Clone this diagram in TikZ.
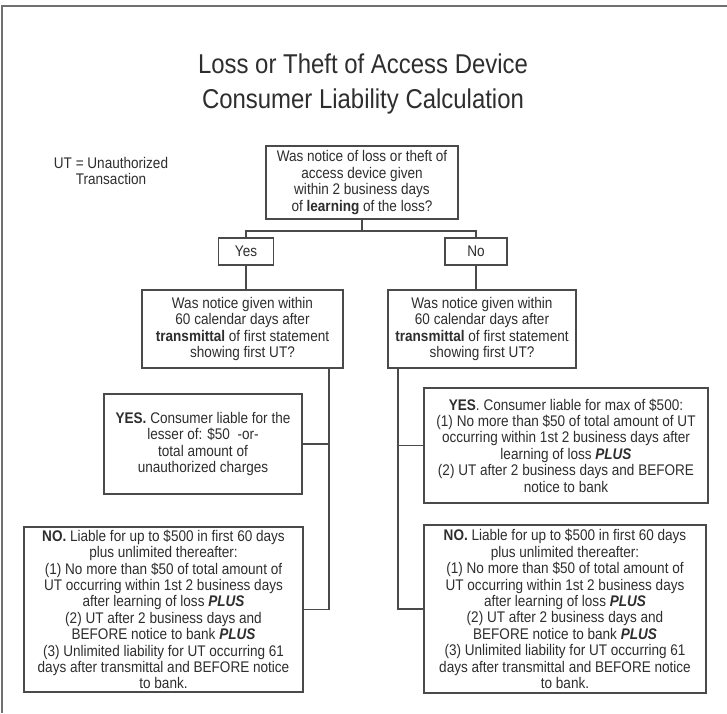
\documentclass[tikz,border=0pt]{standalone}
\usepackage{fontspec}
\setmainfont{Liberation Sans}[FakeStretch=0.88]
\usetikzlibrary{positioning}
\definecolor{inkgray}{HTML}{2E2E2E}
\definecolor{linegray}{HTML}{4A4A4A}
\definecolor{framegray}{HTML}{707070}

\tikzset{
  qbox/.style={draw=linegray, line width=1.2pt, align=center, inner sep=2pt,
    text=inkgray, font=\fontsize{15.4}{16.4}\selectfont},
  link/.style={draw=linegray, line width=1.2pt},
}

\begin{document}
\begin{tikzpicture}[x=1pt, y=-1pt]
  \useasboundingbox (0,0) rectangle (727,713);
  \fill[white] (0,0) rectangle (727,713);

  % Page frame (left and top only)
  \draw[framegray, line width=2pt] (2,713) |- (727,6);

  % Title
  \node[text=inkgray, font=\fontsize{27.2}{35}\selectfont, align=center] (title) at (363,83.5)
    {Loss or Theft of Access Device\\Consumer Liability Calculation};
  \node[text=inkgray, font=\fontsize{15.4}{16.4}\selectfont, align=center] (utnote) at (111,171)
    {UT = Unauthorized\\Transaction};

  % Top question
  \node[qbox, minimum width=192pt, minimum height=73pt] (q0) at (362,182.5)
    {Was notice of loss or theft of\\access device given\\within 2 business days\\of \textbf{learning} of the loss?};

  % Yes / No
  \node[qbox, minimum width=55pt, minimum height=27pt] (yes) at (246,251.5) {Yes};
  \node[qbox, minimum width=62pt, minimum height=27pt] (no) at (476,251.5) {No};

  % Second questions
  \node[qbox, minimum width=201pt, minimum height=78pt] (q1) at (242.5,329)
    {Was notice given within\\60 calendar days after\\\textbf{transmittal} of first statement\\showing first UT?};
  \node[qbox, minimum width=188pt, minimum height=78pt] (q2) at (482,329)
    {Was notice given within\\60 calendar days after\\\textbf{transmittal} of first statement\\showing first UT?};

  % Left answers
  \node[qbox, minimum width=198pt, minimum height=100pt] (lyes) at (203,444)
    {\textbf{YES.} Consumer liable for the\\lesser of: \$50\ \ -or-\\total amount of\\unauthorized charges};
  \node[qbox, minimum width=279pt, minimum height=165pt] (lno) at (163.5,609.5)
    {\textbf{NO.} Liable for up to \$500 in first 60 days\\plus unlimited thereafter:\\(1) No more than \$50 of total amount of\\UT occurring within 1st 2 business days\\after learning of loss \textbf{\textit{PLUS}}\\(2) UT after 2 business days and\\BEFORE notice to bank \textbf{\textit{PLUS}}\\(3) Unlimited liability for UT occurring 61\\days after transmittal and BEFORE notice\\to bank.};

  % Right answers
  \node[qbox, minimum width=284pt, minimum height=115pt] (ryes) at (566,445.5)
    {\textbf{YES}. Consumer liable for max of \$500:\\(1) No more than \$50 of total amount of UT\\occurring within 1st 2 business days after\\learning of loss \textbf{\textit{PLUS}}\\(2) UT after 2 business days and BEFORE\\notice to bank};
  \node[qbox, minimum width=282pt, minimum height=168pt] (rno) at (565,609)
    {\textbf{NO.} Liable for up to \$500 in first 60 days\\plus unlimited thereafter:\\(1) No more than \$50 of total amount of\\UT occurring within 1st 2 business days\\after learning of loss \textbf{\textit{PLUS}}\\(2) UT after 2 business days and\\BEFORE notice to bank \textbf{\textit{PLUS}}\\(3) Unlimited liability for UT occurring 61\\days after transmittal and BEFORE notice\\to bank.};

  % Connectors
  \coordinate (bus) at (362,231);
  \coordinate (ltrunk) at (329,368);
  \coordinate (rtrunk) at (398,368);
  \draw[link] (q0.south) -- (bus);
  \draw[link] (yes.north) |- (bus) -| (no.north);
  \draw[link] (yes.south) -- (yes.south |- q1.north);
  \draw[link] (no.south) -- (no.south |- q2.north);
  \draw[link] (ltrunk) |- (lyes.east);
  \draw[link] (ltrunk) |- (lno.east);
  \draw[link] (rtrunk) |- (ryes.west);
  \draw[link] (rtrunk) |- (rno.west);
\end{tikzpicture}
\end{document}
